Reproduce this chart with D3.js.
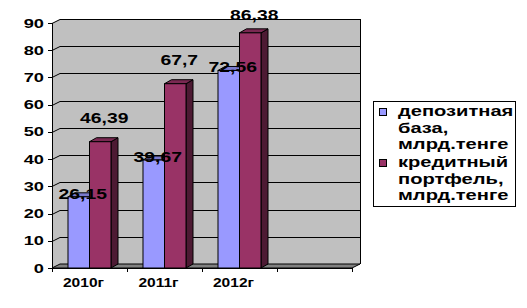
<!DOCTYPE html>
<html>
<head>
<meta charset="utf-8">
<script src="https://cdn.jsdelivr.net/npm/d3@7"></script>
<style>
  body { margin: 0; background: #fff; }
  text { font-family: "Liberation Sans", Arial, sans-serif; font-weight: bold; fill: #000; }
</style>
</head>
<body>
<svg id="chart" width="527" height="308"></svg>
<script>
// data
var categories = ["2010г", "2011г", "2012г", ""];
var seriesNames = ["депозитная база, млрд.тенге", "кредитный портфель, млрд.тенге"];
var deposits = [26.15, 39.67, 72.56];
var credits = [46.39, 67.7, 86.38];
var yTicks = [0, 10, 20, 30, 40, 50, 60, 70, 80, 90];
var legendLines = [["депозитная", "база,", "млрд.тенге"], ["кредитный", "портфель,", "млрд.тенге"]];

var colors = {
    front: ["#9999ff", "#993366"],
    top: ["#7a7acc", "#7a2952"],
    side: ["#5c5c99", "#4d1a33"]
};

var svg = d3.select("#chart");
var plotLeft = 52, plotRight = 352, plotTop = 23, plotBottom = 268;
var depthX = 8, depthY = -4;   // wall depth
var barDX = 7, barDY = -4;     // bar depth

var x = d3.scaleBand().domain(categories).range([plotLeft, plotRight]).padding(0);
var xs = d3.scaleBand().domain([0, 1]).range([0, x.bandwidth()]).paddingInner(0).paddingOuter(0.744);
var y = d3.scaleLinear().domain([0, 90]).range([plotBottom, plotTop]);

// the old excel font is wider than arial, stretch text horizontally
function stretch(sel, k) {
    sel.each(function() {
        var w = this.getComputedTextLength();
        d3.select(this).attr("textLength", w * k).attr("lengthAdjust", "spacingAndGlyphs");
    });
}

// walls
svg.append("path")
    .attr("d", "M" + plotLeft + "," + plotTop + "L" + (plotLeft + depthX) + "," + (plotTop + depthY) +
        "L" + (plotRight + depthX) + "," + (plotTop + depthY) + "L" + (plotRight + depthX) + "," + (plotBottom + depthY) +
        "L" + plotRight + "," + plotBottom + "L" + plotLeft + "," + plotBottom + "Z")
    .attr("fill", "#c0c0c0");

// floor
svg.append("path")
    .attr("d", "M" + plotLeft + "," + plotBottom + "L" + (plotLeft + depthX) + "," + (plotBottom + depthY) +
        "L" + (plotRight + depthX) + "," + (plotBottom + depthY) + "L" + plotRight + "," + plotBottom + "Z")
    .attr("fill", "#808080").attr("stroke", "#000").attr("stroke-width", 1);

// gridlines
svg.append("g").selectAll("path")
    .data(yTicks.filter(function(d){ return d > 0; }))
    .enter().append("path")
    .attr("d", function(d) {
        var yy = Math.round(y(d)) + 0.5;
        return "M" + plotLeft + "," + yy + "L" + (plotLeft + depthX) + "," + (yy + depthY) + "L" + (plotRight + depthX) + "," + (yy + depthY);
    })
    .attr("fill", "none").attr("stroke", "#000").attr("stroke-width", 1);

// right edge of back wall
svg.append("line")
    .attr("x1", plotRight + depthX + 0.5).attr("x2", plotRight + depthX + 0.5)
    .attr("y1", plotTop + depthY).attr("y2", plotBottom + depthY)
    .attr("stroke", "#000");

// bars
var series = [deposits, credits];
var barData = [];
series.forEach(function(vals, s) {
    vals.forEach(function(v, i) {
        barData.push({s: s, cat: categories[i], v: v});
    });
});

var bars = svg.append("g").selectAll("g")
    .data(barData)
    .enter().append("g");

function bx0(d) { return x(d.cat) + xs(d.s); }
function bx1(d) { return x(d.cat) + xs(d.s) + xs.bandwidth(); }

bars.append("path")
    .attr("d", function(d) {
        var x1 = bx1(d), yt = y(d.v);
        return "M" + x1 + "," + yt + "L" + (x1 + barDX) + "," + (yt + barDY) +
            "L" + (x1 + barDX) + "," + (plotBottom + barDY) + "L" + x1 + "," + plotBottom + "Z";
    })
    .attr("fill", function(d){ return colors.side[d.s]; })
    .attr("stroke", "#000").attr("stroke-width", 1);

bars.append("path")
    .attr("d", function(d) {
        var x0 = bx0(d), x1 = bx1(d), yt = y(d.v);
        return "M" + x0 + "," + yt + "L" + (x0 + barDX) + "," + (yt + barDY) +
            "L" + (x1 + barDX) + "," + (yt + barDY) + "L" + x1 + "," + yt + "Z";
    })
    .attr("fill", function(d){ return colors.top[d.s]; })
    .attr("stroke", "#000").attr("stroke-width", 1);

bars.append("rect")
    .attr("x", bx0)
    .attr("y", function(d){ return y(d.v); })
    .attr("width", xs.bandwidth())
    .attr("height", function(d){ return plotBottom - y(d.v); })
    .attr("fill", function(d){ return colors.front[d.s]; })
    .attr("stroke", "#000").attr("stroke-width", 1);

// axes
svg.append("line")
    .attr("x1", plotLeft + 0.5).attr("x2", plotLeft + 0.5).attr("y1", plotTop).attr("y2", plotBottom)
    .attr("stroke", "#000");
svg.append("line")
    .attr("x1", plotLeft).attr("x2", plotRight).attr("y1", plotBottom + 0.5).attr("y2", plotBottom + 0.5)
    .attr("stroke", "#000");

var yAxis = svg.append("g");
yAxis.selectAll("line").data(yTicks).enter().append("line")
    .attr("x1", plotLeft - 4).attr("x2", plotLeft)
    .attr("y1", function(d){ return Math.round(y(d)) + 0.5; })
    .attr("y2", function(d){ return Math.round(y(d)) + 0.5; })
    .attr("stroke", "#000");
yAxis.selectAll("text").data(yTicks).enter().append("text")
    .attr("x", plotLeft - 8)
    .attr("y", function(d){ return y(d) + 4.5; })
    .attr("text-anchor", "end")
    .style("font-size", "13px")
    .text(function(d){ return d; })
    .call(stretch, 1.4);

var xTickPos = categories.map(function(c){ return x(c); }).concat([plotRight]);
svg.append("g").selectAll("line").data(xTickPos).enter().append("line")
    .attr("x1", function(d){ return Math.round(d) + 0.5; })
    .attr("x2", function(d){ return Math.round(d) + 0.5; })
    .attr("y1", plotBottom).attr("y2", plotBottom + 4)
    .attr("stroke", "#000");

svg.append("g").selectAll("text").data(categories).enter().append("text")
    .attr("x", function(d){ return x(d) + x.bandwidth() / 2 - 6; })
    .attr("y", 287)
    .attr("text-anchor", "middle")
    .style("font-size", "13.5px")
    .text(function(d){ return d; })
    .call(stretch, 1.15);

// data labels
svg.append("g").selectAll("text").data(barData).enter().append("text")
    .attr("x", function(d){ return (bx0(d) + bx1(d)) / 2 + 4; })
    .attr("y", function(d){
        var yc = d.s === 0 ? y(d.v) - 3 : Math.max(y(d.v) - 24, 15);
        return yc + 5;
    })
    .attr("text-anchor", "middle")
    .style("font-size", "14px")
    .text(function(d){ return String(d.v).replace(".", ","); })
    .call(stretch, 1.38);

// legend
var legend = svg.append("g");
legend.append("rect")
    .attr("x", 373.5).attr("y", 101.5).attr("width", 142).attr("height", 105)
    .attr("fill", "#fff").attr("stroke", "#000");
var legendTop = [108, 159];
legendLines.forEach(function(lines, s) {
    legend.append("rect")
        .attr("x", 379.5).attr("y", legendTop[s] + 0.5).attr("width", 7).attr("height", 7)
        .attr("fill", colors.front[s]).attr("stroke", "#000");
    legend.append("g").selectAll("text").data(lines).enter().append("text")
        .attr("x", 398)
        .attr("y", function(d, i){ return legendTop[s] + 8 + i * 16.5; })
        .style("font-size", "15px")
        .text(function(d){ return d; })
        .call(stretch, 1.34);
});
</script>
</body>
</html>
